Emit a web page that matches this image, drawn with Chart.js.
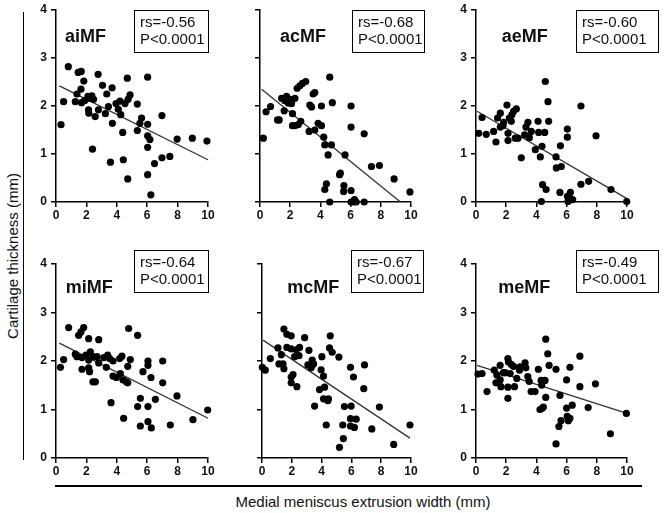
<!DOCTYPE html>
<html><head><meta charset="utf-8">
<script src="https://cdn.jsdelivr.net/npm/chart.js@4/dist/chart.umd.min.js"></script>
<style>
html,body{margin:0;padding:0;background:#fff;}
#wrap{position:relative;width:666px;height:513px;overflow:hidden;font-family:"Liberation Sans",Arial,sans-serif;color:#000;}
canvas{position:absolute;}
.lbl{position:absolute;font-weight:bold;font-size:18px;line-height:18px;white-space:nowrap;color:#111;}
.box{position:absolute;border:1.5px solid #000;box-sizing:border-box;font-size:15px;line-height:16.7px;padding:3px 0 0 5px;white-space:nowrap;color:#111;}
.ttl{position:absolute;font-size:15px;line-height:18px;text-align:center;white-space:nowrap;color:#111;}
.rule{position:absolute;background:#000;}
</style></head>
<body><div id="wrap"></div>
<script>
// ---------- DATA ----------
const panelNames = ['aiMF','acMF','aeMF','miMF','mcMF','meMF'];
const rsValues = ['-0.56','-0.68','-0.60','-0.64','-0.67','-0.49'];
const pValue = 'P<0.0001';
const xTicks = [0,2,4,6,8,10];
const yTicks = [0,1,2,3,4];
const xTitle = 'Medial meniscus extrusion width (mm)';
const yTitle = 'Cartilage thickness (mm)';

const aiMF_x = [0.33,0.5,0.81,1.27,1.38,1.46,1.66,1.64,1.68,1.83,1.88,2.1,2.14,2.16,2.2,2.36,2.4,2.47,2.58,2.77,2.79,3.06,3.25,3.34,3.45,3.58,3.69,3.71,3.95,4.1,4.21,4.26,4.39,4.43,4.54,4.69,4.72,4.74,4.87,5.35,5.35,5.52,5.63,6.03,6.03,6.03,6.03,6.03,6.18,6.24,6.48,6.97,6.97,7.49,7.97,8.97,9.93];
const aiMF_y = [1.61,2.09,2.82,2.09,2.25,2.70,2.72,2.35,2.07,2.52,2.11,2.20,1.92,1.85,2.16,2.21,1.10,2.14,1.78,2.66,1.92,2.43,1.84,2.25,1.99,0.83,2.38,1.64,2.05,1.93,2.10,1.82,1.45,0.88,2.05,2.58,0.48,2.14,2.23,2.04,1.49,1.64,1.75,2.60,1.62,1.38,1.14,0.57,1.30,0.15,0.80,1.80,0.92,0.95,1.31,1.33,1.27];
const aiMF_fit = [[0.22,2.42],[10,0.88]];

const acMF_x = [0.22,0.4,0.7,1.16,1.27,1.43,1.6,1.65,1.76,1.87,1.98,2.09,2.15,2.15,2.31,2.31,2.46,2.53,2.64,2.7,2.81,3.03,3.25,3.3,3.41,3.52,3.63,3.63,3.85,4.07,4.07,4.22,4.29,4.29,4.4,4.51,4.62,4.62,4.73,4.79,5.27,5.32,5.54,5.56,5.63,6.03,6.03,6.03,6.03,6.2,6.26,6.37,6.9,6.9,7.38,7.91,8.88,9.93];
const acMF_y = [1.33,1.88,1.99,1.71,1.71,2.16,1.90,2.11,2.20,2.06,2.14,2.05,1.84,1.59,2.16,1.59,2.37,1.61,2.42,1.68,2.47,2.51,1.47,2.02,1.98,2.25,2.28,1.50,1.64,1.59,2.00,1.35,1.19,0.26,0.38,0.98,2.60,0.0,1.19,2.07,0.57,0.60,0.22,0.34,0.98,2.00,1.56,0.24,0.0,0.0,0.05,0.0,1.42,0.0,0.74,0.76,0.48,0.21];
const acMF_fit = [[0.11,2.35],[9.3,0.0]];

const aeMF_x = [0.18,0.4,0.68,1.17,1.32,1.43,1.61,1.61,1.79,1.83,2.05,2.12,2.12,2.21,2.34,2.38,2.49,2.67,2.6,2.78,3.0,3.22,3.31,3.44,3.53,3.66,3.93,4.11,4.15,4.26,4.33,4.37,4.41,4.55,4.59,4.64,4.77,4.81,5.3,5.32,5.59,5.65,5.56,6.05,6.05,6.05,6.09,6.25,6.3,6.4,6.95,6.95,7.46,7.95,8.94,9.98];
const aeMF_y = [1.43,1.76,1.41,1.47,1.25,1.75,1.85,1.56,1.59,1.66,2.02,1.43,1.28,1.75,1.68,1.82,1.89,1.94,1.33,1.33,0.92,1.40,1.56,1.66,1.34,1.47,1.09,1.68,1.45,0.94,0.01,1.16,0.36,1.45,2.51,0.26,2.09,1.68,0.94,0.71,1.17,0.74,0.20,1.52,1.35,0.12,0.01,0.20,0.05,0.05,2.00,0.37,0.43,1.38,0.26,0.01];
const aeMF_fit = [[0.07,1.89],[10,0.07]];

const miMF_x = [0.29,0.5,0.83,1.27,1.38,1.49,1.64,1.71,1.71,1.82,1.97,2.15,2.15,2.15,2.21,2.26,2.43,2.43,2.59,2.7,2.81,2.81,3.14,3.31,3.4,3.53,3.62,3.75,3.75,3.97,4.19,4.23,4.34,4.41,4.45,4.63,4.72,4.72,4.78,4.89,5.37,5.37,5.55,5.55,5.72,6.05,6.05,6.05,6.05,6.25,6.27,6.54,7.02,7.02,7.52,7.96,9.01,9.98];
const miMF_y = [1.87,2.03,2.69,2.14,2.09,2.53,2.60,2.07,1.83,2.69,2.12,2.46,2.02,1.86,1.78,2.19,2.09,1.57,1.57,2.09,2.44,1.96,2.07,1.87,2.12,2.05,1.14,2.00,1.69,1.66,2.05,1.74,2.10,1.61,0.82,1.57,1.89,1.55,2.67,2.03,1.06,2.53,1.23,0.66,1.78,2.00,1.91,1.06,0.75,1.66,0.62,1.21,2.00,1.55,0.68,1.28,0.79,0.99];
const miMF_fit = [[0.22,2.37],[10,0.82]];

const mcMF_x = [0.02,0.22,0.56,1.07,1.14,1.3,1.41,1.47,1.47,1.67,1.67,1.96,1.96,1.96,1.96,2.08,2.19,2.3,2.34,2.48,2.52,2.86,3.08,3.15,3.26,3.3,3.37,3.46,3.53,3.86,3.97,4.02,4.13,4.13,4.2,4.31,4.42,4.46,4.53,4.58,4.71,5.16,5.2,5.42,5.46,5.53,5.94,5.94,5.94,5.98,6.14,6.2,6.32,6.83,6.88,7.37,7.88,8.84,9.93];
const mcMF_y = [1.87,1.81,2.05,2.27,1.94,2.13,1.94,1.84,2.66,2.55,2.28,2.52,2.25,1.67,1.55,1.72,2.09,2.23,1.47,2.11,2.28,2.48,1.92,2.22,1.92,1.86,2.02,1.94,1.07,1.41,1.82,2.09,1.69,1.22,1.46,0.68,1.18,1.22,2.27,2.52,2.18,2.08,0.22,0.68,0.40,1.06,1.87,0.81,0.66,1.07,1.67,0.63,0.80,1.43,1.92,0.60,1.05,0.28,0.68];
const mcMF_fit = [[0.07,2.43],[9.93,0.41]];

const meMF_x = [0.13,0.4,0.73,1.21,1.32,1.38,1.6,1.6,1.65,1.82,1.93,2.11,2.11,2.11,2.15,2.26,2.33,2.48,2.55,2.7,2.88,2.92,3.25,3.3,3.43,3.52,3.65,3.91,4.13,4.24,4.31,4.35,4.4,4.46,4.57,4.62,4.62,4.75,4.84,5.3,5.3,5.49,5.56,5.63,6.0,6.0,6.04,6.11,6.22,6.22,6.37,6.88,6.88,7.43,7.91,8.9,9.96];
const meMF_y = [1.73,1.74,1.37,1.81,1.55,1.71,1.91,1.61,1.47,1.76,1.76,2.05,1.46,1.23,1.98,1.74,1.93,1.89,1.47,1.64,1.81,1.88,1.96,1.86,1.68,1.58,1.37,1.37,1.83,1.00,1.60,1.50,1.03,1.05,1.60,1.25,2.45,2.15,1.91,1.83,0.29,0.65,1.29,0.77,1.61,1.03,0.86,0.77,1.87,0.82,1.09,2.10,1.47,1.04,1.53,0.50,0.92];
const meMF_fit = [[0.07,1.91],[10,0.92]];

const seriesX = [aiMF_x, acMF_x, aeMF_x, miMF_x, mcMF_x, meMF_x];
const seriesY = [aiMF_y, acMF_y, aeMF_y, miMF_y, mcMF_y, meMF_y];
const seriesFit = [aiMF_fit, acMF_fit, aeMF_fit, miMF_fit, mcMF_fit, meMF_fit];

// ---------- LAYOUT (positions / styles only) ----------
const plotAreas = [ // [left, right, top, bottom] of each plot area
  [56,208,10,202],[260,411,10,202],[476,627,10,202],
  [56,208,264,458],[262,411,264,458],[476,627,264,458]];
const showYLabels = [true,false,true,true,false,true];
const titlePos = [[65,26.5],[280,26.5],[501.7,26.5],[65.7,277.5],[287.3,277.5],[498.3,277.5]];
const boxPos = [[134,10,75,43],[352,10,73,43],[576,10,83,43],[134,250,75,43],[351,250,73,43],[576,250,83,43]];

const wrap = document.getElementById('wrap');
const AX_W = 40, AX_H = 30, PT = 10, PR = 14;
const tickFont = {family:'"Liberation Sans Narrow","Arial Narrow","Liberation Sans",Arial,sans-serif', size:12, weight:'bold'};

function addDiv(cls, css, html){
  const d = document.createElement('div');
  d.className = cls; Object.assign(d.style, css);
  if (html !== undefined) d.innerHTML = html;
  wrap.appendChild(d); return d;
}
function esc(s){return s.replace(/&/g,'&amp;').replace(/</g,'&lt;');}

// global rules & titles
addDiv('rule', {left:'22.5px', top:'12px', width:'1.5px', height:'448px'});
addDiv('rule', {left:'55px', top:'485px', width:'587px', height:'1.5px'});
addDiv('ttl', {left:'163px', top:'492.5px', width:'400px'}, esc(xTitle));
addDiv('ttl', {left:'-87.5px', top:'246.5px', width:'200px', transform:'rotate(-90deg)'}, esc(yTitle));

panelNames.forEach((name, i) => {
  const [l, r, t, b] = plotAreas[i];
  const w = r - l + AX_W + PR, h = b - t + PT + AX_H;
  const c = document.createElement('canvas');
  c.width = w; c.height = h;
  Object.assign(c.style, {left:(l-AX_W)+'px', top:(t-PT)+'px', width:w+'px', height:h+'px'});
  wrap.appendChild(c);

  const pts = seriesX[i].map((x,k) => ({x:x, y:seriesY[i][k]}));
  const fit = seriesFit[i].map(p => ({x:p[0], y:p[1]}));
  const axisCommon = {
    type:'linear',
    grid:{display:true, drawOnChartArea:false, drawTicks:true, tickLength:5, color:'#000', lineWidth:1.5},
    border:{display:true, color:'#000', width:1.5}
  };
  new Chart(c, {
    type:'scatter',
    data:{datasets:[
      {data:pts, pointRadius:3.6, pointHoverRadius:3.6, pointBorderWidth:0, backgroundColor:'#000', borderColor:'#000', pointBackgroundColor:'#000', showLine:false, clip:false, order:1},
      {data:fit, showLine:true, pointRadius:0, pointHoverRadius:0, borderColor:'#333', borderWidth:1.3, fill:false, clip:false, order:2}
    ]},
    options:{
      responsive:false, animation:false, devicePixelRatio:1, events:[],
      layout:{padding:{top:PT, right:PR, left:0, bottom:0}, autoPadding:false},
      plugins:{legend:{display:false}, tooltip:{enabled:false}, title:{display:false}},
      scales:{
        x:Object.assign({}, axisCommon, {
          min:0, max:10,
          afterBuildTicks: s => { s.ticks = xTicks.map(v => ({value:v})); },
          ticks:{color:'#111', font:tickFont, padding:1, maxRotation:0, autoSkip:false},
          afterFit: s => { s.height = AX_H; s.paddingLeft = 0; s.paddingRight = 0; }
        }),
        y:Object.assign({}, axisCommon, {
          min:0, max:4,
          afterBuildTicks: s => { s.ticks = yTicks.map(v => ({value:v})); },
          ticks:{color:'#111', font:tickFont, padding:4, autoSkip:false,
                 callback: v => showYLabels[i] ? String(v) : ''},
          afterFit: s => { s.width = AX_W; s.paddingTop = 0; s.paddingBottom = 0; }
        })
      }
    }
  });

  addDiv('lbl', {left:titlePos[i][0]+'px', top:titlePos[i][1]+'px'}, esc(name));
  const bp = boxPos[i];
  addDiv('box', {left:bp[0]+'px', top:bp[1]+'px', width:bp[2]+'px', height:bp[3]+'px'},
         'rs=' + esc(rsValues[i]) + '<br>' + esc(pValue));
});
</script>
</body></html>
